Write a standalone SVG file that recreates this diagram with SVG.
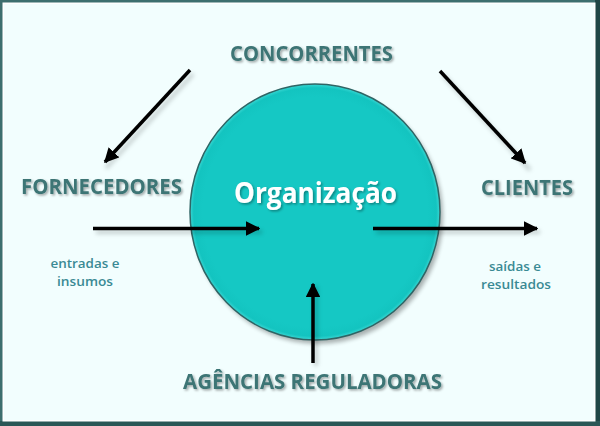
<svg xmlns="http://www.w3.org/2000/svg" width="600" height="426" viewBox="0 0 600 426">
<defs>
<style>
.h{font-family:"Open Sans","Liberation Sans",Arial,sans-serif;font-weight:bold;font-size:22px;fill:#3d7575;filter:url(#ts);}
.s{font-family:"Open Sans","Liberation Sans",sans-serif;font-weight:600;font-size:13px;fill:#3a8a94;text-anchor:middle;}
.ar{stroke:#000;stroke-width:3.5;fill:none;marker-end:url(#ah);}
.sh{stroke:#000;stroke-width:4;fill:none;opacity:0.18;}
</style>
<marker id="ah" viewBox="0 0 10 10" refX="9" refY="5" markerWidth="4.2" markerHeight="4.2" orient="auto" markerUnits="strokeWidth">
<path d="M0,0 L10,5 L0,10 Z" fill="#000"/>
</marker>
<radialGradient id="cg" cx="0.5" cy="0.5" r="0.5">
<stop offset="0.9" stop-color="#15c8c4"/>
<stop offset="0.97" stop-color="#13c4c0"/>
<stop offset="1" stop-color="#3ad7d3"/>
</radialGradient>
<filter id="blur" x="-20%" y="-20%" width="140%" height="140%"><feGaussianBlur stdDeviation="2"/></filter>
<filter id="ts" x="-10%" y="-30%" width="120%" height="160%"><feDropShadow dx="1.5" dy="1.5" stdDeviation="0.8" flood-color="#000" flood-opacity="0.35"/></filter>
</defs>
<rect x="0" y="0" width="600" height="426" fill="#3d6f6f"/>
<rect x="595" y="0" width="5" height="426" fill="#1f4646"/>
<rect x="0" y="421" width="600" height="5" fill="#2b5656"/>
<rect x="2.5" y="2.5" width="593" height="419" fill="#ffffff"/>
<rect x="4" y="4" width="590" height="416" fill="#f2fefe"/>

<g id="organizacao">
<ellipse cx="318" cy="216" rx="125" ry="128" fill="#000" opacity="0.3" filter="url(#blur)"/>
<ellipse cx="315" cy="212" rx="125" ry="128" fill="url(#cg)" stroke="#2f6565" stroke-width="1.5"/>
<text x="315.5" y="203" font-family="'Open Sans','Liberation Sans',sans-serif" font-weight="bold" font-size="28" fill="#ffffff" text-anchor="middle" textLength="163" lengthAdjust="spacingAndGlyphs" filter="url(#ts)">Organização</text>
</g>

<g id="concorrentes">
<text class="h" x="230" y="61" textLength="163" lengthAdjust="spacingAndGlyphs">CONCORRENTES</text>
</g>
<g id="fornecedores">
<text class="h" x="21" y="194" textLength="161" lengthAdjust="spacingAndGlyphs">FORNECEDORES</text>
</g>
<g id="clientes">
<text class="h" x="481" y="195" textLength="92" lengthAdjust="spacingAndGlyphs">CLIENTES</text>
</g>
<g id="agencias">
<text class="h" x="183" y="389" textLength="259" lengthAdjust="spacingAndGlyphs">AGÊNCIAS REGULADORAS</text>
</g>
<g id="entradas">
<text class="s" x="85" y="268" textLength="69" lengthAdjust="spacingAndGlyphs">entradas e</text>
<text class="s" x="85" y="286" textLength="56" lengthAdjust="spacingAndGlyphs">insumos</text>
</g>
<g id="saidas">
<text class="s" x="515" y="271" textLength="52" lengthAdjust="spacingAndGlyphs">saídas e</text>
<text class="s" x="516" y="289" textLength="70" lengthAdjust="spacingAndGlyphs">resultados</text>
</g>

<g id="connectors">
<g filter="url(#blur)">
<path class="sh" d="M193,74 L106,168"/>
<path class="sh" d="M443,75 L530,170"/>
<path class="sh" d="M96,232 L262,232"/>
<path class="sh" d="M376,232 L540,232"/>
<path class="sh" d="M316,366 L316,286"/>
</g>
<path class="ar" d="M190,70 L105,162"/>
<path class="ar" d="M440,71 L525,163"/>
<path class="ar" d="M93,228.5 L259,228.5"/>
<path class="ar" d="M373,228.5 L537,228.5"/>
<path class="ar" d="M313,363 L313,284"/>
</g>
</svg>
